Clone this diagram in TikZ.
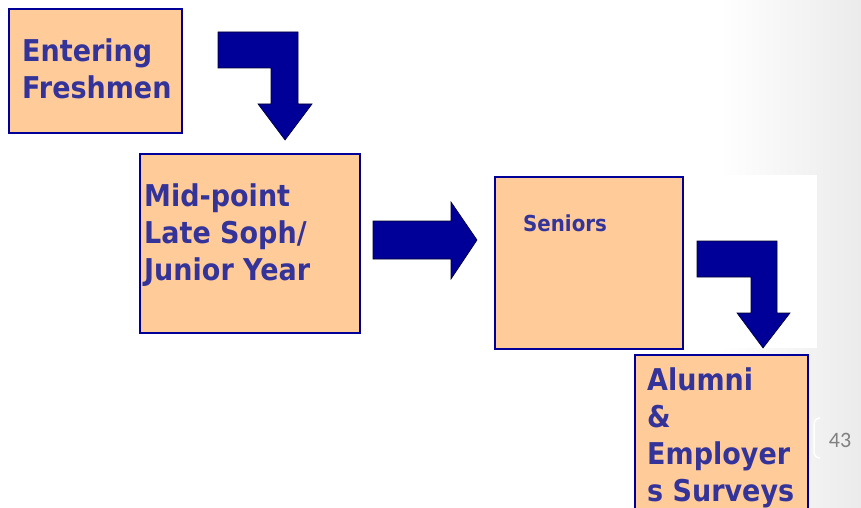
\documentclass[tikz,border=0pt]{standalone}
\usepackage{fontspec}
\usepackage{tikz}
\usetikzlibrary{positioning}
\newfontfamily\boxfont[FakeStretch=0.9]{DejaVu Sans}
\newfontfamily\numfont{Carlito}
\definecolor{Peach}{HTML}{FFCC99}
\definecolor{BoxBlue}{HTML}{000099}
\definecolor{TextBlue}{HTML}{333399}
\definecolor{PageGray}{HTML}{EBEBEB}

\begin{document}
\begin{tikzpicture}[x=1pt,y=-1pt,
    stage/.style={draw=BoxBlue, fill=Peach, line width=2pt, inner sep=0pt},
    stagetext/.style={anchor=west, align=left, inner sep=0pt, text=TextBlue,
        font=\boxfont\bfseries\fontsize{30}{37}\selectfont},
    blockarrow/.style={fill=BoxBlue, draw=black!70!BoxBlue, line width=0.6pt}]
    \useasboundingbox (0,0) rectangle (861,508);
    \clip (0,0) rectangle (861,508);
    % slide background
    \fill[white] (0,0) rectangle (861,508);
    \shade[left color=white, right color=PageGray] (720,0) rectangle (861,508);
    \fill[white] (680,175) rectangle (817,348);

    % stages
    \node[stage, minimum width=173, minimum height=124] (fresh) at (95.5,71) {};
    \node[stage, minimum width=220, minimum height=179] (mid) at (250,243.5) {};
    \node[stage, minimum width=188, minimum height=172] (senior) at (589,263) {};
    \node[stage, minimum width=173, minimum height=175] (alumni) at (721.5,442.5) {};

    \node[stagetext] (freshtxt) at (22,68.5) {Entering\\Freshmen};
    \node[stagetext] (midtxt) at (144,235) {Mid-point\\Late Soph/\\Junior Year};
    \node[stagetext, font=\boxfont\bfseries\fontsize{22}{26}\selectfont] (seniortxt) at (523,223) {Seniors};
    \node[stagetext] (alumnitxt) at (647,437.5) {Alumni\\\&\\Employer\\s Surveys};

    % block arrows
    \draw[blockarrow] (218,32) -- (298,32) -- (298,104) -- (312,104) -- (285,140)
        -- (258,104) -- (271,104) -- (271,68) -- (218,68) -- cycle;
    \draw[blockarrow] (373,221) -- (451,221) -- (451,202) -- (477,240)
        -- (451,279) -- (451,259) -- (373,259) -- cycle;
    \draw[blockarrow] (697,241) -- (777,241) -- (777,313) -- (790,313) -- (763,348)
        -- (737,313) -- (751,313) -- (751,277) -- (697,277) -- cycle;

    % page number
    \draw[white, line width=1.5pt, rounded corners=6] (820,418) -- (814,418) -- (814,458) -- (820,458);
    \node[text=gray, font=\numfont\fontsize{22}{26}\selectfont, inner sep=0pt] (pagenum) at (840,440) {43};
\end{tikzpicture}
\end{document}
